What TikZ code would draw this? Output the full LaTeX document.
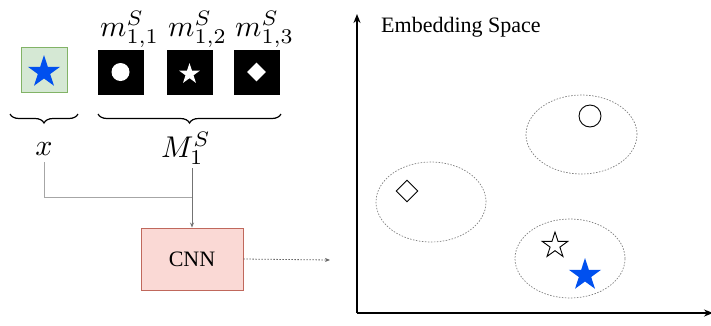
\documentclass[tikz,border=0pt]{standalone}
\usepackage{graphicx}
\usepackage{fontspec}
\setmainfont{Liberation Serif}
\usetikzlibrary{shapes.geometric,decorations.pathreplacing,arrows.meta}
\definecolor{gfill}{HTML}{D5E8D4}
\definecolor{gline}{HTML}{82B366}
\definecolor{starblue}{HTML}{0050EF}
\definecolor{rfill}{HTML}{FAD9D5}
\definecolor{rline}{HTML}{C0685C}
\newcommand{\mylbl}[1]{\scalebox{3}{$#1$}}
\tikzset{
  mathlbl/.style={inner sep=0pt},
  blkbox/.style={fill=black,draw=black,minimum width=45pt,minimum height=44pt,inner sep=0pt},
  starshape/.style={star,star points=5,star point ratio=2.618,inner sep=0pt},
  cluster/.style={ellipse,draw=gray,dash pattern=on 1.5pt off 1.5pt,line width=0.7pt,inner sep=0pt},
  bracestyle/.style={decorate,decoration={brace,mirror,amplitude=9pt},line width=1.2pt},
  conn/.style={draw=gray!70,line width=0.8pt},
}
\begin{document}
\begin{tikzpicture}[x=1pt,y=-1pt]
\useasboundingbox (0,0) rectangle (711,325);
% input image
\node[draw=gline,fill=gfill,line width=0.8pt,minimum width=46pt,minimum height=45pt,inner sep=0pt] (xin) at (44,69.5) {};
\node[starshape,fill=starblue,minimum size=34pt] (xstar) at (44,72) {};
% memory images
\node[blkbox] (b1) at (120.5,72) {};
\node[blkbox] (b2) at (189.5,72) {};
\node[blkbox] (b3) at (256.5,72) {};
\node[circle,fill=white,minimum size=18pt,inner sep=0pt] (c1) at (b1) {};
\node[starshape,fill=white,minimum size=22pt] (s1) at (189.5,74) {};
\node[diamond,aspect=1,fill=white,minimum size=19pt,inner sep=0pt] (d1) at (b3) {};
% labels
\node[mathlbl,anchor=base west] (m1) at (100,36) {\mylbl{m^S_{1,1}}};
\node[mathlbl,anchor=base west] (m2) at (168,36) {\mylbl{m^S_{1,2}}};
\node[mathlbl,anchor=base west] (m3) at (235,36) {\mylbl{m^S_{1,3}}};
% braces
\coordinate (bl1) at (10,114);
\coordinate (bl2) at (78,114);
\coordinate (br1) at (98,114);
\coordinate (br2) at (281,114);
\draw[bracestyle] (bl1) -- (bl2);
\draw[bracestyle] (br1) -- (br2);
\node[mathlbl,anchor=base] (xl) at (44,155) {\mylbl{x}};
\node[mathlbl,anchor=base] (Ml) at (186,157) {\mylbl{M^S_1}};
% CNN
\node[draw=rline,fill=rfill,line width=0.9pt,minimum width=102pt,minimum height=62pt,inner sep=0pt,font=\fontsize{22}{26}\selectfont] (cnn) at (192,259) {CNN};
\coordinate (junc) at (192,197);
\draw[conn] (44,162) |- (junc);
\draw[draw=gray!90!black,line width=0.8pt,-{Stealth[length=5pt,width=4pt]}] (192,168) -- (cnn.north);
\coordinate (dotend) at (330,260);
\draw[draw=gray!80!black,line width=0.8pt,dash pattern=on 1.5pt off 1.5pt,-{Stealth[length=5pt,width=4pt]}] (cnn.east) -- (dotend);
% embedding space axes
\coordinate (origin) at (357,313);
\coordinate (ytop) at (357,14);
\coordinate (xright) at (713,313);
\draw[line width=1.6pt,-{Stealth[length=9pt,width=7pt]}] (origin) -- (ytop);
\draw[line width=1.6pt,-{Stealth[length=9pt,width=7pt]}] (origin) -- (xright);
\node[anchor=base west,inner sep=0pt,font=\fontsize{22}{26}\selectfont] (title) at (381,32) {Embedding Space};
% clusters
\node[cluster,minimum width=111pt,minimum height=79pt] (e1) at (581.5,134.5) {};
\node[cluster,minimum width=110pt,minimum height=80pt] (e2) at (431,202) {};
\node[cluster,minimum width=110pt,minimum height=79pt] (e3) at (570,258.5) {};
\node[circle,draw=black,line width=0.9pt,minimum size=22pt,inner sep=0pt] (pc) at (590,116) {};
\node[diamond,aspect=1,draw=black,line width=0.9pt,minimum size=22pt,inner sep=0pt] (pd) at (407,191) {};
\node[starshape,draw=black,line width=0.9pt,fill=white,minimum size=27pt] (ps) at (555,245.5) {};
\node[starshape,fill=starblue,minimum size=34pt] (pb) at (585,275) {};
\end{tikzpicture}
\end{document}
